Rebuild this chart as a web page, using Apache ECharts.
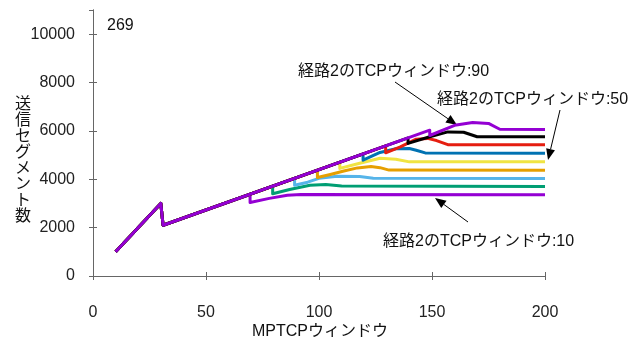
<!DOCTYPE html>
<html>
<head>
<meta charset="utf-8">
<script src="https://cdn.jsdelivr.net/npm/echarts@6/dist/echarts.min.js"></script>
<style>
html,body{margin:0;padding:0;background:#fff;}
#chart{width:641px;height:345px;}
</style>
</head>
<body>
<div id="chart"></div>
<script>
// ---- data ----
const xTitle = 'MPTCPウィンドウ';
const yTitle = '送信セグメント数';
const cornerLabel = '269';
const windowNames = ['10','20','30','40','50','60','70','80','90'];
const colors = ['#9400D3','#009E73','#56B4E9','#E69F00','#F0E442','#0072B2','#E51E10','#000000','#9400D3'];
// common start for every curve
const trunk = [[10,1000],[30,3000],[31,2100]];
// part of each curve from its break-away point on
const w10 = [[69.5,3370],[69.5,3040],[78,3210],[86,3340],[92,3370],[200,3360]];
const w20 = [[79.5,3715],[79.5,3400],[87,3580],[96,3750],[103,3785],[110,3725],[200,3700]];
const w30 = [[89.2,4038],[89.2,3750],[95,3880],[100,4040],[108,4125],[118,4110],[124,4040],[200,4035]];
const w40 = [[99.3,4374],[99.3,4070],[105,4200],[111,4340],[117,4470],[123,4525],[127,4480],[131,4380],[200,4378]];
const w50 = [[109.2,4704],[109.2,4450],[118,4660],[127,4870],[134,4830],[140,4720],[200,4720]];
const w60 = [[119.5,5047],[119.5,4790],[127,5110],[134,5260],[140,5270],[143,5200],[147,5090],[200,5081]];
const w70 = [[129.5,5380],[129.5,5093],[136,5340],[143,5660],[148,5690],[152,5600],[157,5430],[200,5424]];
const w80 = [[139.4,5710],[139.4,5482],[149,5760],[157,5960],[164,5945],[170,5760],[200,5756]];
const w90 = [[149,6029],[149,5810],[160,6230],[168,6350],[175,6310],[180,6070],[200,6062]];
const tails = [w10,w20,w30,w40,w50,w60,w70,w80,w90];
const annText = ['経路2のTCPウィンドウ:90','経路2のTCPウィンドウ:50','経路2のTCPウィンドウ:10'];

// ---- chart ----
const FONT = "'Liberation Sans', Arial, 'Noto Sans CJK JP', sans-serif";
const AX = '#666';
const chart = echarts.init(document.getElementById('chart'), null, {renderer:'canvas'});

function arrow(x1,y1,x2,y2){
  const dx=x2-x1, dy=y2-y1, L=Math.sqrt(dx*dx+dy*dy);
  const ux=dx/L, uy=dy/L, len=11, hw=4.5;
  const bx=x2-ux*len, by=y2-uy*len;
  return [
    {type:'line', shape:{x1:x1,y1:y1,x2:bx,y2:by}, style:{stroke:'#000',lineWidth:1}},
    {type:'polygon', shape:{points:[[x2,y2],[bx-uy*hw,by+ux*hw],[bx+uy*hw,by-ux*hw]]}, style:{fill:'#000'}}
  ];
}
function label(text,x,y,align){
  return {type:'text', x:x, y:y, style:{text:text, fill:'#111', font:'16px '+FONT, textAlign:align||'left', textVerticalAlign:'middle'}};
}

const series = tails.map((t,i)=>({
  name: windowNames[i],
  type:'line',
  data: trunk.concat(t),
  showSymbol:false,
  symbol:'none',
  lineStyle:{color:colors[i], width:3, join:'round'},
  itemStyle:{color:colors[i]},
  z: 2+i,
  animation:false
}));

const axisCommon = {
  axisLine:{show:true, lineStyle:{color:AX,width:1}},
  axisTick:{show:true, inside:true, length:4, lineStyle:{color:AX}},
  splitLine:{show:false}
};

const graphic = [].concat(
  label(cornerLabel,107,26),
  label(annText[0],298,72),
  arrow(395,82,457,125),
  label(annText[1],437,100),
  arrow(560,110,548,160),
  label(annText[2],383,242),
  arrow(468,222,435,198),
  [{type:'text', x:320, y:332, style:{text:xTitle, fill:'#111', font:'16px '+FONT, textAlign:'center', textVerticalAlign:'middle'}}],
  [{type:'text', x:23, y:161, style:{text:yTitle.split('').join('\n'), fill:'#111', font:'16px '+FONT, lineHeight:16, textAlign:'center', textVerticalAlign:'middle'}}]
);

chart.setOption({
  animation:false,
  backgroundColor:'#fff',
  grid:{left:93, right:96, top:10, bottom:69, containLabel:false},
  xAxis:[
    Object.assign({type:'value', min:0, max:200, interval:50, position:'bottom',
      axisLabel:{show:true, margin:29, fontSize:16, color:'#222', fontFamily:FONT}}, axisCommon),
    Object.assign({type:'value', min:0, max:200, interval:50, position:'top',
      axisLabel:{show:false}}, axisCommon)
  ],
  yAxis:[
    Object.assign({type:'value', min:0, max:11000, interval:2000, position:'left',
      axisLabel:{show:true, margin:18, fontSize:16, color:'#222', fontFamily:FONT, showMaxLabel:false,
        formatter:v=> v>10000 ? '' : String(v)}}, axisCommon),
    Object.assign({type:'value', min:0, max:11000, interval:2000, position:'right',
      axisLabel:{show:false}}, axisCommon)
  ],
  series:series,
  graphic:graphic
});
</script>
</body>
</html>
